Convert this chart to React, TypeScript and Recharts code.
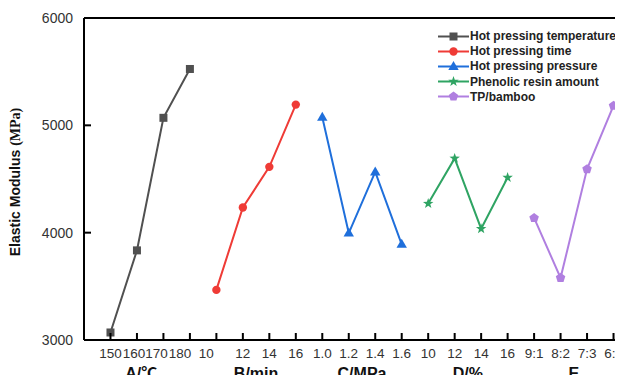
import React from 'react';
import { LineChart, Line, XAxis, YAxis, Legend, ReferenceLine } from 'recharts';

// x tick labels, one per level, in order A..E
const tickLabels = ['150', '160', '170', '180', '10', '12', '14', '16', '1.0', '1.2', '1.4', '1.6', '10', '12', '14', '16', '9:1', '8:2', '7:3', '6:4'];
const groupLabels = ['A/℃', 'B/min', 'C/MPa', 'D/%', 'E'];
const groupTicks = [1.5, 5.5, 9.5, 13.5, 17.5];
const yTicks = [3000, 4000, 5000, 6000];

// elastic modulus (MPa) per level
const tempValues = [3070, 3835, 5070, 5525];
const timeValues = [3467, 4235, 4613, 5193];
const pressureValues = [5075, 3996, 4566, 3891];
const resinValues = [4271, 4692, 4037, 4514];
const ratioValues = [4137, 3579, 4592, 5183];

const toPoints = (values: number[], start: number) => values.map((v, i) => ({ x: start + i, y: v }));

const series = [
  { name: 'Hot pressing temperature', values: tempValues, start: 0, color: '#505050', shape: 'square' },
  { name: 'Hot pressing time', values: timeValues, start: 4, color: '#ef3b36', shape: 'circle' },
  { name: 'Hot pressing pressure', values: pressureValues, start: 8, color: '#1f6fdb', shape: 'triangle' },
  { name: 'Phenolic resin amount', values: resinValues, start: 12, color: '#2fa463', shape: 'star' },
  { name: 'TP/bamboo', values: ratioValues, start: 16, color: '#b07fe0', shape: 'pentagon' },
];

const sans = 'Liberation Sans, Arial, sans-serif';
const axisColor = '#000000';

const polyPoints = (cx: number, cy: number, n: number, outer: number, inner?: number) => {
  const pts: string[] = [];
  const count = inner ? n * 2 : n;
  for (let i = 0; i < count; i++) {
    const r = inner && i % 2 === 1 ? inner : outer;
    const a = -Math.PI / 2 + (i * 2 * Math.PI) / count;
    pts.push(`${cx + r * Math.cos(a)},${cy + r * Math.sin(a)}`);
  }
  return pts.join(' ');
};

const Marker = ({ cx, cy, shape, color }: any) => {
  if (cx == null || cy == null) return null;
  switch (shape) {
    case 'square':
      return <rect x={cx - 4} y={cy - 4} width={8} height={8} fill={color} />;
    case 'circle':
      return <circle cx={cx} cy={cy} r={4.2} fill={color} />;
    case 'triangle':
      return <polygon points={`${cx},${cy - 5.5} ${cx - 5.2},${cy + 3.5} ${cx + 5.2},${cy + 3.5}`} fill={color} />;
    case 'star':
      return <polygon points={polyPoints(cx, cy, 5, 5.5, 2.2)} fill={color} />;
    default:
      return <polygon points={polyPoints(cx, cy, 5, 5)} fill={color} />;
  }
};

const LegendContent = () => (
  <div style={{ fontFamily: sans, fontSize: 12, fontWeight: 'bold', color: '#222' }}>
    {series.map((s) => (
      <div key={s.name} style={{ display: 'flex', alignItems: 'center', height: 15.2, whiteSpace: 'nowrap' }}>
        <svg width={32} height={15} style={{ display: 'block' }}>
          <line x1={0} y1={7.5} x2={31} y2={7.5} stroke={s.color} strokeWidth={2} />
          <Marker cx={15.5} cy={7.5} shape={s.shape} color={s.color} />
        </svg>
        <span>{s.name}</span>
      </div>
    ))}
  </div>
);

const YLabel = ({ viewBox }: any) => {
  const cx = 15;
  const cy = viewBox.y + viewBox.height / 2 + 3;
  return (
    <text
      x={cx}
      y={cy}
      transform={`rotate(-90 ${cx} ${cy})`}
      textAnchor="middle"
      dominantBaseline="central"
      fontSize={14}
      fontWeight="bold"
      fill="#111"
    >
      <tspan fontFamily={sans}>Elastic Modulus </tspan>
      <tspan fontFamily="Liberation Serif, Times New Roman, serif">(MPa)</tspan>
    </text>
  );
};

// the first group's labels sit packed to the left in the source figure
const labelShift: Record<number, number> = { 1: -3, 2: -7, 3: -10, 4: -10 };

// inward tick + label below the axis
const XTick = ({ x, y, payload }: any) => (
  <g>
    <rect x={x - 1} y={y - 7} width={2} height={7} fill={axisColor} />
    <text
      x={x + (labelShift[payload.value] || 0)}
      y={y + 8}
      dy="0.71em"
      textAnchor="middle"
      fontSize={13.5}
      fill="#333"
      fontFamily={sans}
    >
      {tickLabels[payload.value]}
    </text>
  </g>
);

const YTick = ({ x, y, payload }: any) => (
  <g>
    <rect x={x} y={y - 1} width={7} height={2} fill={axisColor} />
    <text x={x - 11} y={y} dy="0.355em" textAnchor="end" fontSize={14} fill="#333" fontFamily={sans}>
      {payload.value}
    </text>
  </g>
);

const GroupLabel = (text: string, shift: number) => ({ viewBox }: any) => (
  <text
    x={viewBox.x + shift}
    y={viewBox.y + viewBox.height + 28}
    dy="0.71em"
    textAnchor="middle"
    fontSize={16}
    fontWeight="bold"
    fill="#111"
    fontFamily="Liberation Sans, Noto Sans CJK SC, sans-serif"
  >
    {text}
  </text>
);

const App = () => {
  return (
    <div style={{ margin: -8, width: 623, height: 383, overflow: 'hidden', background: '#fff' }}>
      <LineChart width={640} height={383} margin={{ top: 18, right: 0, bottom: 0, left: 0 }}>
        <XAxis
          dataKey="x"
          type="number"
          domain={[-1, 20]}
          ticks={tickLabels.map((_, i) => i)}
          interval={0}
          height={43}
          tickSize={0}
          tickMargin={0}
          axisLine={{ stroke: axisColor, strokeWidth: 2.2 }}
          tickLine={false}
          tick={<XTick />}
        />
        <YAxis
          type="number"
          domain={[3000, 6000]}
          ticks={yTicks}
          width={84}
          tickSize={0}
          tickMargin={0}
          axisLine={{ stroke: axisColor, strokeWidth: 2 }}
          tickLine={false}
          tick={<YTick />}
          label={<YLabel />}
        />
        <ReferenceLine y={6000} stroke={axisColor} strokeWidth={2} />
        {groupTicks.map((g, i) => (
          <ReferenceLine
            key={groupLabels[i]}
            x={g}
            stroke="none"
            label={GroupLabel(groupLabels[i], i === 0 ? -9 : 0)}
          />
        ))}
        <Legend
          layout="horizontal"
          verticalAlign="middle"
          align="center"
          content={<LegendContent />}
          wrapperStyle={{ position: 'absolute', top: 28.5, left: 438, width: 185 }}
        />
        {series.map((s) => (
          <Line
            key={s.name}
            data={toPoints(s.values, s.start)}
            dataKey="y"
            name={s.name}
            stroke={s.color}
            strokeWidth={2}
            isAnimationActive={false}
            dot={(p: any) => <Marker key={`${s.name}-${p.index}`} cx={p.cx} cy={p.cy} shape={s.shape} color={s.color} />}
            activeDot={false}
          />
        ))}
      </LineChart>
    </div>
  );
};

export default App;
